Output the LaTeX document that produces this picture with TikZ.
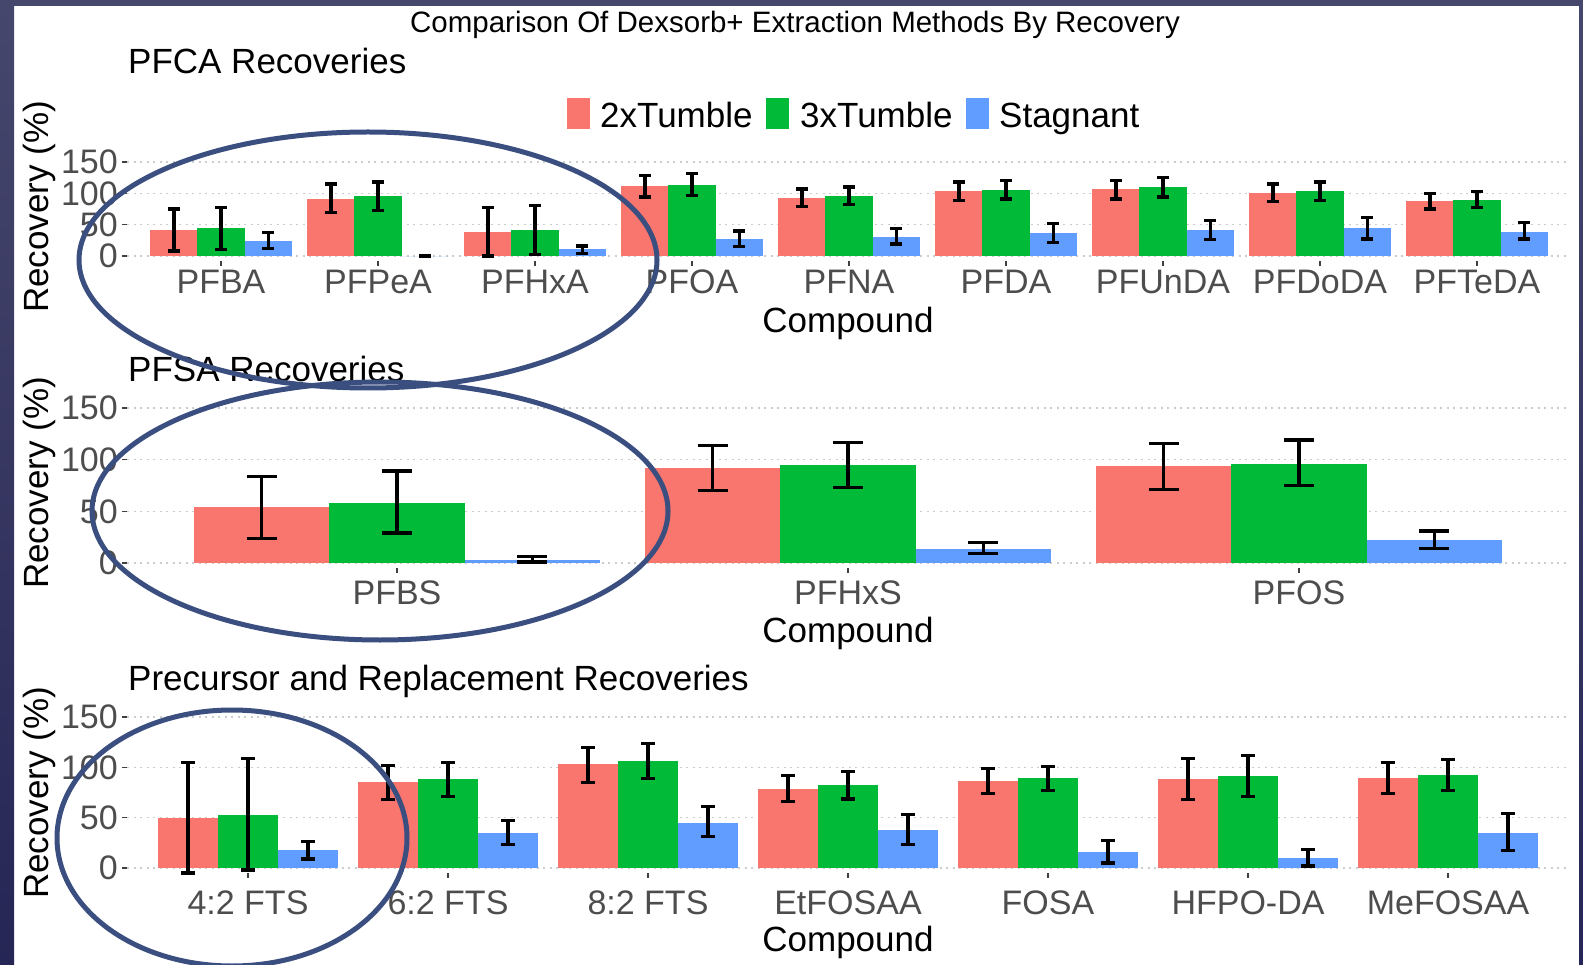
\documentclass[tikz,border=0pt]{standalone}
\usepackage{fontspec}
\setmainfont{Liberation Sans}
\usepackage{xcolor}
\usepackage{tikz}
\usetikzlibrary{
    positioning,
    calc
}
\definecolor{twoT}{HTML}{F8766D}
\definecolor{threeT}{HTML}{00BA38}
\definecolor{stagT}{HTML}{619CFF}
\definecolor{axisgray}{HTML}{4D4D4D}
\definecolor{ringblue}{RGB}{58,78,128}
\definecolor{frametop}{RGB}{70,71,108}
\definecolor{framebot}{RGB}{38,38,86}
\tikzset{
    gridline/.style={
        gray!40, line width=1.6pt, dash pattern=on 2pt off 4.5pt
    },
    axtick/.style={
        black!75, line width=1.4pt
    },
    errbar/.style={
        black, line width=3.2pt
    },
    ring/.style={
        draw=ringblue, line width=5pt
    },
    ticklabel/.style={
        font=\fontsize{34}{40}\selectfont, text=axisgray
    },
    axtitle/.style={
        font=\fontsize{35}{42}\selectfont
    },
    legkey/.style={
        rectangle, minimum width=23pt, minimum height=31pt
    }
}

\begin{document}
\begin{tikzpicture}[
    x=1pt, y=-1pt,
    every node/.style={inner sep=0pt},
    maintitle/.style={font=\fontsize{29.5}{35}\selectfont, anchor=base},
    paneltitle/.style={axtitle, anchor=base west}
  ]
    \useasboundingbox (0,0) rectangle (1583,965);
    \fill[white] (0,0) rectangle (1583,965);
    % slide frame
    \shade[top color=frametop, bottom color=framebot, even odd rule]
        (0,0) rectangle (1583,965) (14,6) rectangle (1579,965);

    \node[maintitle] (title) at (795,33) {Comparison Of Dexsorb+ Extraction Methods By Recovery};

    % ---- PFCA panel ----
    \node[paneltitle] (pfca_title) at (128,74) {PFCA Recoveries};
    \node[legkey, fill=twoT] (key_two) at (578.5,113.5) {};
    \node[axtitle, anchor=base west] (leg_two) at (600,128) {2xTumble};
    \node[legkey, fill=threeT] (key_three) at (777.5,113.5) {};
    \node[axtitle, anchor=base west] (leg_three) at (800,128) {3xTumble};
    \node[legkey, fill=stagT] (key_stag) at (977,113.5) {};
    \node[axtitle, anchor=base west] (leg_stag) at (999,128) {Stagnant};

    \def\yz{256}\def\ys{0.6267}\def\xo{221}\def\dx{157}
    \foreach \v in {0,50,100,150} {
        \draw[gridline] (127,\yz-\v*\ys) -- (1570,\yz-\v*\ys);
        \draw[axtick] (122,\yz-\v*\ys) -- (127,\yz-\v*\ys);
        \node[ticklabel, anchor=east] (ya-\v) at (118,\yz-\v*\ys) {\v};
    }
    \foreach \i/\lab/\ra/\rl/\rh/\ga/\gl/\gh/\ba/\bl/\bh in {
        0/PFBA/41/8/75/44/11/78/24/12/37,
        1/PFPeA/91/70/115/95/73/118/0/0/0,
        2/PFHxA/38/0/78/42/3/81/11/4/16,
        3/PFOA/111/94/128/114/97/131/27/15/40,
        4/PFNA/93/79/107/96/82/110/31/19/44,
        5/PFDA/103/88/118/105/91/121/36/21/52,
        6/PFUnDA/107/91/121/110/94/125/41/26/57,
        7/PFDoDA/100/87/115/104/89/118/45/27/62,
        8/PFTeDA/88/75/100/90/78/103/39/27/53} {
        \pgfmathsetmacro\cx{\xo+\i*\dx}
        \pgfmathsetmacro\bw{0.3*\dx}
        \pgfmathsetmacro\capw{0.12*\bw}
        \foreach \k/\v/\lo/\hi/\col in {-1/\ra/\rl/\rh/twoT, 0/\ga/\gl/\gh/threeT, 1/\ba/\bl/\bh/stagT} {
            \fill[fill=\col] (\cx+\k*\bw-0.5*\bw,\yz) rectangle (\cx+\k*\bw+0.5*\bw,\yz-\v*\ys);
            \draw[errbar] (\cx+\k*\bw,{\yz-(\lo)*\ys}) -- (\cx+\k*\bw,\yz-\hi*\ys);
            \draw[errbar] (\cx+\k*\bw-\capw,{\yz-(\lo)*\ys}) -- ++(2*\capw,0);
            \draw[errbar] (\cx+\k*\bw-\capw,\yz-\hi*\ys) -- ++(2*\capw,0);
        }
        \draw[axtick] (\cx,\yz+5) -- (\cx,\yz+10);
        \node[ticklabel, anchor=base] (xa-\i) at (\cx,294) {\lab};
    }
    \node[axtitle, anchor=base] (xtitle_a) at (848,333) {Compound};
    \node[axtitle, rotate=90, anchor=base] (ytitle_a) at (48,207) {Recovery (\%)};

    % ---- PFSA panel ----
    \node[paneltitle] (pfsa_title) at (128,382) {PFSA Recoveries};
    \def\yz{563}\def\ys{1.0333}\def\xo{397}\def\dx{451}
    \foreach \v in {0,50,100,150} {
        \draw[gridline] (127,\yz-\v*\ys) -- (1570,\yz-\v*\ys);
        \draw[axtick] (122,\yz-\v*\ys) -- (127,\yz-\v*\ys);
        \node[ticklabel, anchor=east] (yb-\v) at (118,\yz-\v*\ys) {\v};
    }
    \foreach \i/\lab/\ra/\rl/\rh/\ga/\gl/\gh/\ba/\bl/\bh in {
        0/PFBS/54/24/84/58/29/89/3/1/6,
        1/PFHxS/92/70/114/95/73/117/14/9/19.5,
        2/PFOS/94/71.5/116/96/75/119/22/14/31} {
        \pgfmathsetmacro\cx{\xo+\i*\dx}
        \pgfmathsetmacro\bw{0.3*\dx}
        \pgfmathsetmacro\capw{0.112*\bw}
        \foreach \k/\v/\lo/\hi/\col in {-1/\ra/\rl/\rh/twoT, 0/\ga/\gl/\gh/threeT, 1/\ba/\bl/\bh/stagT} {
            \fill[fill=\col] (\cx+\k*\bw-0.5*\bw,\yz) rectangle (\cx+\k*\bw+0.5*\bw,\yz-\v*\ys);
            \draw[errbar] (\cx+\k*\bw,{\yz-(\lo)*\ys}) -- (\cx+\k*\bw,\yz-\hi*\ys);
            \draw[errbar] (\cx+\k*\bw-\capw,{\yz-(\lo)*\ys}) -- ++(2*\capw,0);
            \draw[errbar] (\cx+\k*\bw-\capw,\yz-\hi*\ys) -- ++(2*\capw,0);
        }
        \draw[axtick] (\cx,\yz+5) -- (\cx,\yz+10);
        \node[ticklabel, anchor=base] (xb-\i) at (\cx,604) {\lab};
    }
    \node[axtitle, anchor=base] (xtitle_b) at (848,642) {Compound};
    \node[axtitle, rotate=90, anchor=base] (ytitle_b) at (48,483) {Recovery (\%)};

    % ---- precursor panel ----
    \node[paneltitle] (prec_title) at (128,690) {Precursor and Replacement Recoveries};
    \def\yz{868}\def\ys{1.0067}\def\xo{248}\def\dx{200}
    \foreach \v in {0,50,100,150} {
        \draw[gridline] (127,\yz-\v*\ys) -- (1570,\yz-\v*\ys);
        \draw[axtick] (122,\yz-\v*\ys) -- (127,\yz-\v*\ys);
        \node[ticklabel, anchor=east] (yc-\v) at (118,\yz-\v*\ys) {\v};
    }
    \foreach \i/\lab/\ra/\rl/\rh/\ga/\gl/\gh/\ba/\bl/\bh in {
        0/4:2 FTS/50/-5/105/53/-2/109/17.5/9/26,
        1/6:2 FTS/85/68/102/88/71/105/35/23/47,
        2/8:2 FTS/103/85/120/106/89/123.5/45/31/61,
        3/EtFOSAA/78.5/66/92/82/68.5/96/38/23/53,
        4/FOSA/86/74/99/89/77/101/16/5/27,
        5/HFPO-DA/88/68/109/91/71/112/10/2/18.5,
        6/MeFOSAA/89/74/105/92/77/108/35/17/54} {
        \pgfmathsetmacro\cx{\xo+\i*\dx}
        \pgfmathsetmacro\bw{0.3*\dx}
        \pgfmathsetmacro\capw{0.12*\bw}
        \foreach \k/\v/\lo/\hi/\col in {-1/\ra/\rl/\rh/twoT, 0/\ga/\gl/\gh/threeT, 1/\ba/\bl/\bh/stagT} {
            \fill[fill=\col] (\cx+\k*\bw-0.5*\bw,\yz) rectangle (\cx+\k*\bw+0.5*\bw,\yz-\v*\ys);
            \draw[errbar] (\cx+\k*\bw,{\yz-(\lo)*\ys}) -- (\cx+\k*\bw,\yz-\hi*\ys);
            \draw[errbar] (\cx+\k*\bw-\capw,{\yz-(\lo)*\ys}) -- ++(2*\capw,0);
            \draw[errbar] (\cx+\k*\bw-\capw,\yz-\hi*\ys) -- ++(2*\capw,0);
        }
        \draw[axtick] (\cx,\yz+5) -- (\cx,\yz+10);
        \node[ticklabel, anchor=base] (xc-\i) at (\cx,914) {\lab};
    }
    \node[axtitle, anchor=base] (xtitle_c) at (848,951) {Compound};
    \node[axtitle, rotate=90, anchor=base] (ytitle_c) at (48,793) {Recovery (\%)};

    % highlight rings
    \draw[ring] (368,260) ellipse [x radius=289, y radius=128];
    \draw[ring] (380,511) ellipse [x radius=288, y radius=129];
    \draw[ring] (232,838) ellipse [x radius=175, y radius=128];

\end{tikzpicture}
\end{document}
